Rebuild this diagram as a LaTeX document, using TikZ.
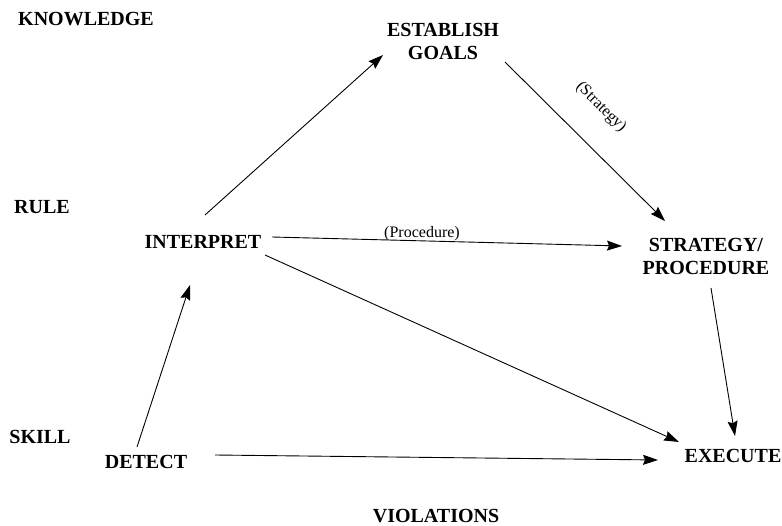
\documentclass[tikz,border=0pt]{standalone}
\usepackage{fontspec}
\setmainfont{Liberation Serif}
\usetikzlibrary{arrows.meta,calc}
\tikzset{
  lbl/.style={font=\fontsize{20}{23}\selectfont\bfseries, inner sep=0pt, align=center},
  small/.style={font=\fontsize{16}{18}\selectfont, inner sep=0pt},
  arr/.style={-{Stealth[length=15pt,width=10pt,inset=2pt]}, line width=0.9pt}
}
\begin{document}
\begin{tikzpicture}[x=1pt,y=-1pt]
\useasboundingbox (0,0) rectangle (782,526);
\node[lbl] (knowledge) at (86,19) {KNOWLEDGE};
\node[lbl] (rule) at (42,207) {RULE};
\node[lbl] (skill) at (40,437) {SKILL};
\node[lbl] (goals) at (443,41) {ESTABLISH\\GOALS};
\node[lbl] (interpret) at (203,242) {INTERPRET};
\node[lbl] (strat) at (706,256) {STRATEGY/\\PROCEDURE};
\node[lbl] (detect) at (146,462) {DETECT};
\node[lbl] (execute) at (733,456) {EXECUTE};
\node[lbl] (violations) at (436,516) {VIOLATIONS};
\node[small, rotate=-45] (lstrat) at (601,107) {(Strategy)};
\node[small] (lproc) at (422,234) {(Procedure)};

\draw[arr] ($(interpret)+(2,-27)$) -- ($(goals)+(-60,14)$);
\draw[arr] ($(goals)+(62,21)$) -- ($(strat)+(-41,-35)$);
\draw[arr] ($(interpret)+(69,-5)$) -- ($(strat)+(-84,-10)$);
\draw[arr] ($(interpret)+(62,13)$) -- ($(execute)+(-54,-14)$);
\draw[arr] ($(strat)+(5,32)$) -- ($(execute)+(2,-20)$);
\draw[arr] ($(detect)+(-9,-15)$) -- ($(interpret)+(-13,43)$);
\draw[arr] ($(detect)+(69,-7)$) -- ($(execute)+(-75,4)$);
\end{tikzpicture}
\end{document}
